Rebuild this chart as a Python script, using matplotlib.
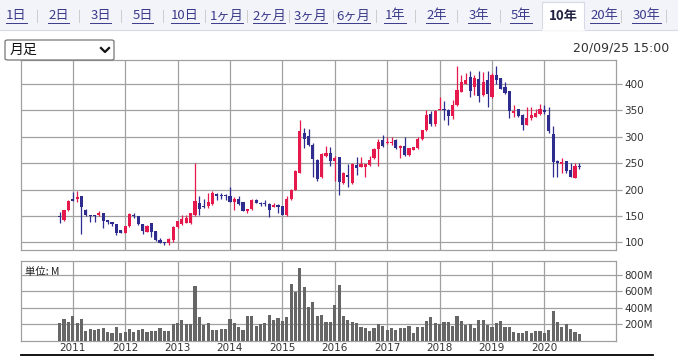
import matplotlib
matplotlib.use("Agg")
import matplotlib.pyplot as plt
from matplotlib.lines import Line2D
from matplotlib.patches import Rectangle, FancyBboxPatch

plt.rcParams['font.family'] = ['DejaVu Sans', 'Noto Sans CJK JP']
JP = ['Noto Sans CJK JP', 'DejaVu Sans']

# monthly candles, Oct 2010 .. Sep 2020
opens = [150, 142, 161, 182, 182, 188, 162, 152, 151, 152, 155, 142, 139, 135, 123,
         118, 131, 152, 149, 135, 120, 136, 121, 104, 101, 98, 104,
         129, 135, 137, 136, 152, 175, 169, 168, 173, 191, 190, 190,
         188, 177, 182, 176, 160, 163, 180, 175, 174, 172, 167, 170,
         169, 152, 182, 200, 232, 307, 301, 285, 256, 223, 263, 270,
         255, 261, 213, 228, 212, 247, 242, 243, 247, 259, 276, 294,
         288, 288, 294, 278, 283, 266, 275, 278, 295, 312, 343, 325,
         350, 352, 350, 340, 361, 385, 400, 413, 395, 410, 380, 408,
         375, 418, 411, 395, 386, 345, 352, 342, 322, 336, 338, 344,
         350, 342, 305, 255, 248, 254, 237, 222, 245]
highs = [158, 162, 180, 196, 197, 188, 163, 152, 151, 159, 155, 142, 139, 135, 124,
         131, 155, 155, 150, 135, 132, 136, 121, 109, 101, 108, 130,
         141, 152, 152, 155, 250, 187, 183, 193, 198, 194, 193, 192,
         204, 185, 187, 177, 164, 183, 182, 177, 181, 174, 174, 172,
         169, 187, 201, 237, 331, 316, 315, 288, 258, 269, 283, 281,
         263, 262, 233, 248, 250, 262, 262, 249, 264, 278, 295, 303,
         299, 300, 295, 285, 299, 278, 281, 300, 313, 350, 348, 350,
         376, 368, 352, 369, 434, 418, 420, 424, 418, 424, 422, 424,
         420, 435, 411, 403, 386, 361, 352, 343, 356, 356, 352, 362,
         360, 357, 320, 256, 259, 254, 250, 250, 251]
lows = [137, 141, 160, 179, 177, 115, 150, 139, 139, 150, 128, 134, 131, 114, 117,
        117, 129, 146, 133, 116, 119, 110, 103, 98, 95, 95, 101,
        127, 133, 137, 135, 150, 152, 165, 165, 171, 180, 182, 180,
        177, 161, 170, 159, 156, 162, 174, 168, 169, 148, 166, 156,
        152, 150, 180, 199, 231, 278, 282, 223, 217, 221, 262, 245,
        217, 190, 211, 205, 211, 228, 242, 224, 245, 257, 245, 280,
        286, 285, 276, 259, 264, 264, 275, 276, 294, 310, 320, 320,
        350, 332, 323, 333, 359, 384, 400, 376, 380, 366, 378, 357,
        374, 400, 390, 382, 335, 337, 337, 312, 322, 331, 337, 342,
        344, 307, 223, 223, 231, 232, 223, 221, 238]
closes = [147, 161, 179, 179, 185, 166, 151, 150, 149, 155, 141, 139, 135, 117, 118,
          131, 153, 149, 134, 122, 131, 120, 104, 99, 98, 106, 129,
          140, 144, 146, 155, 179, 163, 166, 177, 193, 188, 187, 187,
          177, 182, 173, 160, 163, 180, 175, 173, 172, 161, 170, 167,
          152, 183, 200, 236, 310, 296, 285, 258, 220, 267, 270, 255,
          259, 215, 231, 224, 249, 241, 248, 248, 256, 276, 291, 283,
          291, 291, 278, 283, 266, 278, 280, 295, 312, 342, 324, 348,
          352, 350, 340, 361, 389, 404, 408, 386, 411, 378, 403, 382,
          418, 408, 390, 383, 348, 348, 340, 323, 336, 342, 345, 352,
          346, 310, 253, 251, 252, 235, 223, 244, 243]
# volume, millions
volumes = [208, 268, 220, 304, 208, 268, 116, 136, 128, 140, 148, 100, 88, 160, 92,
           104, 140, 108, 124, 140, 108, 120, 120, 148, 116, 116, 196,
           212, 256, 196, 196, 668, 292, 188, 208, 128, 128, 136, 144,
           268, 208, 164, 128, 304, 304, 176, 196, 208, 316, 256, 280,
           236, 292, 688, 588, 880, 652, 408, 472, 304, 316, 220, 220,
           436, 676, 304, 256, 220, 208, 160, 148, 120, 148, 196, 172,
           128, 148, 124, 148, 148, 172, 88, 160, 160, 232, 292, 208,
           196, 220, 220, 172, 304, 232, 188, 196, 148, 256, 256, 184,
           160, 208, 232, 160, 160, 100, 88, 88, 112, 88, 112, 112,
           88, 124, 364, 220, 160, 196, 136, 100, 76]
years = ["2011", "2012", "2013", "2014", "2015", "2016", "2017", "2018", "2019", "2020"]
price_ticks = [100, 150, 200, 250, 300, 350, 400]
vol_ticks = [200, 400, 600, 800]
tabs = ["1日", "2日", "3日", "5日", "10日", "1ヶ月", "2ヶ月", "3ヶ月", "6ヶ月",
        "1年", "2年", "3年", "5年", "10年", "20年", "30年"]

W, H = 678, 356
UP = "#e5194b"
DOWN = "#2e2d8f"
GRID = "#a0a0a0"
TXT = "#333333"


def fx(x):
    return x / W


def fy(y):
    return 1 - y / H


fig = plt.figure(figsize=(W / 100, H / 100), dpi=100)

# tab bar
fig.add_artist(Rectangle((0, fy(30)), 1, 30 / H, transform=fig.transFigure,
                         facecolor="#f3f4fa", edgecolor="none"))
fig.add_artist(Line2D([0, 1], [fy(30), fy(30)], transform=fig.transFigure,
                      color="#d6d9e6", lw=0.8))
fig.add_artist(Rectangle((fx(542), fy(30.4)), 42 / H * H / W, 28 / H,
                         transform=fig.transFigure, facecolor="white",
                         edgecolor="#d6d9e6", lw=0.8))
fig.add_artist(Line2D([fx(542.5), fx(583.5)], [fy(30.2), fy(30.2)],
                      transform=fig.transFigure, color="white", lw=1.2))
tab_spans = [(6, 27), (48, 69), (90, 111), (132, 153), (171, 199), (211, 243),
             (253, 285), (295, 327), (337, 370), (384, 406), (426, 448), (468, 490),
             (510, 532), (549, 577), (590, 619), (632, 661)]
seps = [37, 79, 121, 163, 205, 247, 289, 333, 376, 415, 457, 500, 621, 666]
for name, (a, b) in zip(tabs, tab_spans):
    active = name == "10年"
    fig.text(fx((a + b) / 2), fy(16), name, ha="center", va="center",
             fontsize=9.5, family=JP, color="#222244" if active else "#3a3a8a",
             fontweight="bold" if active else "normal")
    if not active:
        fig.add_artist(Line2D([fx(a), fx(b)], [fy(22.5), fy(22.5)],
                              transform=fig.transFigure, color="#3a3a8a", lw=0.7))
for s in seps:
    fig.add_artist(Line2D([fx(s), fx(s)], [fy(10), fy(22)],
                          transform=fig.transFigure, color="#cccccc", lw=0.7))

# dropdown
fig.add_artist(FancyBboxPatch((fx(5), fy(60)), 109 / W, 20 / H,
                              boxstyle="round,pad=0,rounding_size=0.004",
                              transform=fig.transFigure, facecolor="white",
                              edgecolor="#767676", lw=0.9))
fig.text(fx(10), fy(50), "月足", ha="left", va="center", fontsize=10,
         family=JP, color="#111111")
fig.add_artist(Line2D([fx(101), fx(105), fx(109)], [fy(48), fy(52), fy(48)],
                      transform=fig.transFigure, color="#111111", lw=1.6))
fig.text(fx(669), fy(48), "20/09/25 15:00", ha="right", va="center",
         fontsize=9, color=TXT)

xs = list(range(len(opens)))
xlim = (-8.84, 127.4)
year_x = [3 + 12 * i for i in range(len(years))]

# price panel
ax = fig.add_axes([fx(21), fy(250), 595 / W, 190 / H])
ax.set_xlim(*xlim)
ax.set_ylim(85.4, 445.5)
colors = [UP if c >= o else DOWN for o, c in zip(opens, closes)]
ax.vlines(xs, lows, highs, colors=colors, lw=0.9, zorder=3)
bottoms = [min(o, c) for o, c in zip(opens, closes)]
heights = [max(abs(c - o), 1.5) for o, c in zip(opens, closes)]
ax.bar(xs, heights, bottom=bottoms, width=0.72, color=colors, lw=0, zorder=4)
ax.set_yticks(price_ticks)
ax.set_xticks(year_x)
ax.set_xticklabels([])
ax.tick_params(axis="x", length=0)

# volume panel
av = fig.add_axes([fx(21), fy(340.5), 595 / W, 79.5 / H])
av.set_xlim(*xlim)
av.set_ylim(0, 970)
av.bar(xs, volumes, width=0.72, color="#666666", lw=0, zorder=3)
av.set_yticks(vol_ticks)
av.set_yticklabels([f"{v}M" for v in vol_ticks])
av.set_xticks(year_x)
av.set_xticklabels([])
av.tick_params(axis="x", length=0)
av.text(0.006, 0.93, "単位: M", transform=av.transAxes, ha="left", va="top",
        fontsize=7.5, family=JP, color="#222222")

for a in (ax, av):
    a.grid(True, color=GRID, lw=0.9, zorder=0)
    a.set_axisbelow(True)
    for sp in a.spines.values():
        sp.set_color(GRID)
        sp.set_linewidth(0.9)
    a.yaxis.tick_right()
    a.tick_params(axis="y", length=4, width=0.9, color=GRID, pad=2,
                  labelsize=7.5, labelcolor=TXT)

for x, lab in zip(year_x, years):
    fig.text(fx(59.6 + 4.367 * x), fy(348), lab, ha="center", va="center",
             fontsize=7.5, color=TXT)
fig.add_artist(Line2D([fx(21), fx(653)], [fy(354.5), fy(354.5)],
                      transform=fig.transFigure, color="black", lw=1.3))

fig.savefig("out.png", dpi=100)
